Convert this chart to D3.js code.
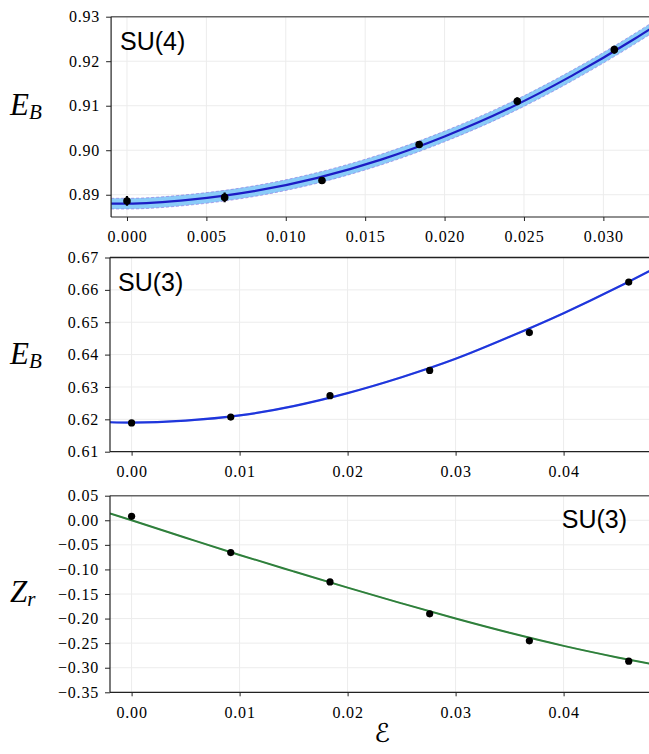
<!DOCTYPE html>
<html>
<head>
<meta charset="utf-8">
<script src="https://cdn.jsdelivr.net/npm/d3@7"></script>
<style>
  html, body { margin: 0; padding: 0; background: #fff; }
  svg { display: block; }
</style>
</head>
<body>
<svg id="chart" width="649" height="754"></svg>
<script>
// ---- data ----
// Top panel: SU(4)
const su4Eps = [0.0, 0.00615, 0.01228, 0.0184, 0.02458, 0.03069];
const su4EB = [0.8886, 0.8894, 0.8932, 0.9013, 0.9110, 0.9226];
const su4Err = [0.0011, 0.0011, 0.0008, 0.0008, 0.0009, 0.0009];
const su4FitEps = [-0.001, 0.0, 0.004, 0.008, 0.012, 0.016, 0.020, 0.024, 0.028, 0.032, 0.0335];
const su4FitEB = [0.8880, 0.8880, 0.8889, 0.8908, 0.8938, 0.8979, 0.9031, 0.9093, 0.9167, 0.9251, 0.9285];
const su4FitErr = [0.0012, 0.0012, 0.0012, 0.0012, 0.0012, 0.0012, 0.0012, 0.0012, 0.0012, 0.0012, 0.0012];
const su4XTicks = [0.000, 0.005, 0.010, 0.015, 0.020, 0.025, 0.030];
const su4YTicks = [0.89, 0.90, 0.91, 0.92, 0.93];

// Middle panel: SU(3) binding energy
const su3Eps = [0.0, 0.00918, 0.01837, 0.0276, 0.03683, 0.04603];
const su3EB = [0.6189, 0.6207, 0.6273, 0.6351, 0.6468, 0.6624];
const su3FitEps = [-0.002, 0.0, 0.005, 0.010, 0.015, 0.020, 0.025, 0.030, 0.035, 0.040, 0.045, 0.0485];
const su3FitEB = [0.6191, 0.6190, 0.6196, 0.6212, 0.6241, 0.6281, 0.6330, 0.6387, 0.6455, 0.6528, 0.6608, 0.6668];
const su3FitErr = [0.0003, 0.0003, 0.0003, 0.0003, 0.0003, 0.0003, 0.0003, 0.0003, 0.0003, 0.0003, 0.0003, 0.0003];
const su3XTicks = [0.00, 0.01, 0.02, 0.03, 0.04];
const su3YTicks = [0.61, 0.62, 0.63, 0.64, 0.65, 0.66, 0.67];

// Bottom panel: SU(3) Z_r
const zrEps = [0.0, 0.00918, 0.01837, 0.0276, 0.03683, 0.04603];
const zrVal = [0.0081, -0.0657, -0.1254, -0.1904, -0.2453, -0.2866];
const zrFitEps = [-0.002, 0.0, 0.005, 0.010, 0.015, 0.020, 0.025, 0.030, 0.035, 0.040, 0.045, 0.0485];
const zrFitVal = [0.0140, 0.0000, -0.0355, -0.0705, -0.1040, -0.1370, -0.1690, -0.2000, -0.2290, -0.2555, -0.2790, -0.2940];
const zrFitErr = [0.0015, 0.0015, 0.0015, 0.0015, 0.0015, 0.0015, 0.0015, 0.0015, 0.0015, 0.0015, 0.0015, 0.0015];
const zrXTicks = [0.00, 0.01, 0.02, 0.03, 0.04];
const zrYTicks = [-0.35, -0.30, -0.25, -0.20, -0.15, -0.10, -0.05, 0.00, 0.05];

const svg = d3.select('#chart');
const serif = '"Liberation Serif", "Times New Roman", serif';

// Draws one panel with grid, band, fit line, points and axes
function drawPanel(cfg) {
  const { id, box, xDomain, yDomain } = cfg;
  const x = d3.scaleLinear().domain(xDomain).range([box.left, box.right]);
  const y = d3.scaleLinear().domain(yDomain).range([box.bottom, box.top]);
  const g = svg.append('g').attr('class', 'panel-' + id);

  g.append('clipPath').attr('id', 'clip-' + id)
    .append('rect')
    .attr('x', box.left).attr('y', box.top)
    .attr('width', box.right - box.left).attr('height', box.bottom - box.top);

  // Grid
  const grid = g.append('g').attr('class', 'grid');
  grid.selectAll('.gx').data(cfg.xTicks).enter().append('line')
    .attr('x1', d => x(d)).attr('x2', d => x(d))
    .attr('y1', box.top).attr('y2', box.bottom)
    .attr('stroke', '#ececec').attr('stroke-width', 1);
  grid.selectAll('.gy').data(cfg.yTicks).enter().append('line')
    .attr('x1', box.left).attr('x2', box.right)
    .attr('y1', d => y(d)).attr('y2', d => y(d))
    .attr('stroke', '#ececec').attr('stroke-width', 1);

  const plot = g.append('g').attr('clip-path', `url(#clip-${id})`);
  const fit = cfg.fitX.map((v, i) => ({ x: v, y: cfg.fitY[i], e: cfg.fitE[i] }));

  // Uncertainty band
  const area = d3.area().curve(d3.curveMonotoneX)
    .x(d => x(d.x)).y0(d => y(d.y - d.e)).y1(d => y(d.y + d.e));
  plot.append('path').datum(fit)
    .attr('d', area)
    .attr('fill', cfg.bandColor).attr('opacity', cfg.bandOpacity);
  if (cfg.bandEdge) {
    ['lo', 'hi'].forEach(side => {
      const edge = d3.line().curve(d3.curveMonotoneX)
        .x(d => x(d.x)).y(d => y(side === 'lo' ? d.y - d.e : d.y + d.e));
      plot.append('path').datum(fit)
        .attr('d', edge).attr('fill', 'none')
        .attr('stroke', cfg.bandEdge).attr('stroke-width', 1)
        .attr('stroke-dasharray', '3,2').attr('opacity', 0.6);
    });
  }

  // Fit line
  const line = d3.line().curve(d3.curveMonotoneX).x(d => x(d.x)).y(d => y(d.y));
  plot.append('path').datum(fit)
    .attr('d', line).attr('fill', 'none')
    .attr('stroke', cfg.lineColor).attr('stroke-width', cfg.lineWidth);

  // Data points
  const pts = cfg.ptX.map((v, i) => ({ x: v, y: cfg.ptY[i], e: cfg.ptE ? cfg.ptE[i] : 0 }));
  if (cfg.ptE) {
    plot.selectAll('.err').data(pts).enter().append('line')
      .attr('x1', d => x(d.x)).attr('x2', d => x(d.x))
      .attr('y1', d => y(d.y - d.e)).attr('y2', d => y(d.y + d.e))
      .attr('stroke', '#000').attr('stroke-width', 2.2);
  }
  plot.selectAll('.pt').data(pts).enter().append('circle')
    .attr('cx', d => x(d.x)).attr('cy', d => y(d.y))
    .attr('r', cfg.ptR).attr('fill', '#000');

  // Axes
  const xAxis = d3.axisBottom(x).tickValues(cfg.xTicks)
    .tickFormat(d3.format(cfg.xFmt)).tickSize(4).tickPadding(7);
  const yAxis = d3.axisLeft(y).tickValues(cfg.yTicks)
    .tickFormat(d3.format(cfg.yFmt)).tickSize(5).tickPadding(6);
  const gx = g.append('g').attr('transform', `translate(0,${box.bottom})`).call(xAxis);
  const gy = g.append('g').attr('transform', `translate(${box.left},0)`).call(yAxis);
  [gx, gy].forEach(ax => {
    ax.select('.domain').remove();
    ax.attr('font-family', serif).attr('font-size', 16);
    ax.selectAll('.tick line').attr('stroke', '#222');
    ax.selectAll('.tick text')
      .attr('fill', '#000')
      .style('font-family', serif)
      .style('font-size', '16px')
      .style('letter-spacing', '0.8px');
  });
  gx.selectAll('.tick text').attr('dy', '0.9em');

  // Spines
  g.append('line').attr('x1', box.left).attr('x2', box.right)
    .attr('y1', box.top).attr('y2', box.top)
    .attr('stroke', cfg.topSpine).attr('stroke-width', 1.4);
  g.append('line').attr('x1', box.right).attr('x2', box.right)
    .attr('y1', box.top).attr('y2', box.bottom)
    .attr('stroke', '#666').attr('stroke-width', 1.4);
  g.append('line').attr('x1', box.left).attr('x2', box.right)
    .attr('y1', box.bottom).attr('y2', box.bottom)
    .attr('stroke', '#222').attr('stroke-width', 1.2);
  g.append('line').attr('x1', box.left).attr('x2', box.left)
    .attr('y1', box.top).attr('y2', box.bottom)
    .attr('stroke', '#222').attr('stroke-width', 1.2);

  // Panel title
  g.append('text')
    .attr('x', cfg.title.x).attr('y', cfg.title.y)
    .attr('text-anchor', cfg.title.anchor || 'start')
    .attr('font-family', '"Liberation Sans", Arial, sans-serif')
    .attr('font-size', 25).attr('fill', '#000')
    .text(cfg.title.text);

  // Y label (math italic with subscript)
  const lab = g.append('text')
    .attr('x', 10).attr('y', cfg.yLabel.y)
    .attr('font-family', serif)
    .attr('font-style', 'italic').attr('fill', '#000');
  lab.append('tspan').attr('font-size', 31).text(cfg.yLabel.main);
  lab.append('tspan').attr('font-size', 21).attr('dy', 4).text(cfg.yLabel.sub);
}

drawPanel({
  id: 'su4',
  box: { left: 111.1, right: 651, top: 16.7, bottom: 217 },
  xDomain: [-0.001, 0.033], yDomain: [0.885, 0.93],
  xTicks: su4XTicks, yTicks: su4YTicks, xFmt: '.3f', yFmt: '.2f',
  fitX: su4FitEps, fitY: su4FitEB, fitE: su4FitErr,
  bandColor: '#84c8f8', bandOpacity: 0.95, bandEdge: '#8a70e0',
  lineColor: '#1c1cc4', lineWidth: 2.2,
  ptX: su4Eps, ptY: su4EB, ptE: su4Err, ptR: 3.8,
  topSpine: '#666',
  title: { text: 'SU(4)', x: 120, y: 50 },
  yLabel: { main: 'E', sub: 'B', y: 115 }
});

drawPanel({
  id: 'su3',
  box: { left: 110, right: 650, top: 257.5, bottom: 451.7 },
  xDomain: [-0.002, 0.048], yDomain: [0.61, 0.67],
  xTicks: su3XTicks, yTicks: su3YTicks, xFmt: '.2f', yFmt: '.2f',
  fitX: su3FitEps, fitY: su3FitEB, fitE: su3FitErr,
  bandColor: '#9aa8f0', bandOpacity: 0.7, bandEdge: null,
  lineColor: '#1f36dc', lineWidth: 2.2,
  ptX: su3Eps, ptY: su3EB, ptE: null, ptR: 3.6,
  topSpine: '#222',
  title: { text: 'SU(3)', x: 118, y: 291 },
  yLabel: { main: 'E', sub: 'B', y: 364 }
});

drawPanel({
  id: 'zr',
  box: { left: 110, right: 650, top: 495.7, bottom: 692.3 },
  xDomain: [-0.002, 0.048], yDomain: [-0.35, 0.05],
  xTicks: zrXTicks, yTicks: zrYTicks, xFmt: '.2f', yFmt: '.2f',
  fitX: zrFitEps, fitY: zrFitVal, fitE: zrFitErr,
  bandColor: '#9ed89a', bandOpacity: 0.8, bandEdge: null,
  lineColor: '#2f7f3c', lineWidth: 2,
  ptX: zrEps, ptY: zrVal, ptE: null, ptR: 3.6,
  topSpine: '#666',
  title: { text: 'SU(3)', x: 627, y: 528, anchor: 'end' },
  yLabel: { main: 'Z', sub: 'r', y: 602 }
});

// Shared x label
svg.append('text')
  .attr('x', 382).attr('y', 742)
  .attr('text-anchor', 'middle')
  .attr('font-family', '"DejaVu Serif", "DejaVu Sans", serif')
  .attr('font-size', 26).attr('fill', '#000')
  .text('ℰ');
</script>
</body>
</html>
